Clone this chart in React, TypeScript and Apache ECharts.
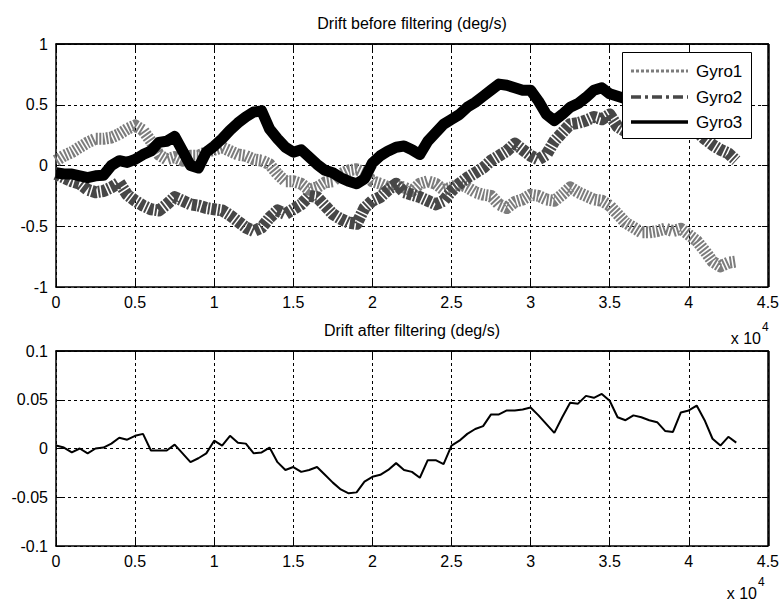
import React, { useEffect, useRef } from "react";
import * as echarts from "echarts";

// sample spacing of the recorded series (samples)
const SAMPLE_STEP = 500;

const gyro1 = [
  0.04, 0.08, 0.11, 0.15, 0.19, 0.22, 0.22, 0.23, 0.26, 0.30,
  0.33, 0.29, 0.20, 0.09, 0.05, 0.07, 0.04, 0.08, 0.08, 0.11,
  0.13, 0.15, 0.12, 0.09, 0.08, 0.05, 0.04, 0.01, -0.07, -0.13,
  -0.13, -0.15, -0.20, -0.18, -0.14, -0.13, -0.07, -0.04, -0.03, -0.06,
  -0.13, -0.15, -0.18, -0.17, -0.18, -0.21, -0.15, -0.13, -0.15, -0.20,
  -0.18, -0.15, -0.18, -0.22, -0.24, -0.25, -0.32, -0.35, -0.30, -0.28,
  -0.24, -0.25, -0.28, -0.29, -0.24, -0.18, -0.22, -0.25, -0.28, -0.29,
  -0.33, -0.40, -0.47, -0.51, -0.55, -0.55, -0.54, -0.52, -0.54, -0.52,
  -0.57, -0.62, -0.70, -0.79, -0.83, -0.80, -0.79,
];

const gyro2 = [
  -0.07, -0.10, -0.13, -0.15, -0.20, -0.22, -0.21, -0.18, -0.14, -0.24,
  -0.29, -0.33, -0.36, -0.37, -0.32, -0.26, -0.29, -0.32, -0.33, -0.35,
  -0.36, -0.37, -0.41, -0.46, -0.51, -0.54, -0.51, -0.43, -0.37, -0.40,
  -0.36, -0.32, -0.25, -0.26, -0.33, -0.40, -0.44, -0.47, -0.48, -0.35,
  -0.29, -0.26, -0.20, -0.15, -0.22, -0.24, -0.26, -0.29, -0.32, -0.29,
  -0.21, -0.15, -0.10, -0.06, -0.02, 0.04, 0.08, 0.12, 0.18, 0.13,
  0.08, 0.05, 0.09, 0.20, 0.27, 0.34, 0.35, 0.37, 0.40, 0.38,
  0.42, 0.32, 0.28, 0.32, 0.35, 0.33, 0.36, 0.34, 0.33, 0.35,
  0.32, 0.28, 0.22, 0.17, 0.13, 0.10, 0.04,
];

const gyro3 = [
  -0.06, -0.07, -0.07, -0.085, -0.10, -0.085, -0.08, 0.00, 0.04, 0.025,
  0.05, 0.09, 0.12, 0.19, 0.20, 0.24, 0.12, 0.00, -0.02, 0.11,
  0.16, 0.22, 0.29, 0.35, 0.40, 0.44, 0.45, 0.30, 0.22, 0.15,
  0.11, 0.13, 0.07, 0.01, -0.04, -0.06, -0.10, -0.13, -0.15, -0.11,
  0.02, 0.08, 0.12, 0.15, 0.16, 0.13, 0.09, 0.20, 0.27, 0.34,
  0.38, 0.42, 0.48, 0.52, 0.57, 0.62, 0.67, 0.66, 0.64, 0.62,
  0.62, 0.53, 0.42, 0.37, 0.42, 0.48, 0.51, 0.56, 0.62, 0.64,
  0.59, 0.57, 0.55, 0.52, 0.50, 0.48, 0.52, 0.55, 0.53, 0.50,
  0.48, 0.45, 0.42, 0.40, 0.38, 0.36, 0.35,
];

const filtered = [
  0.003, 0.001, -0.004, 0.0, -0.005, 0.0, 0.001, 0.005, 0.011, 0.009,
  0.013, 0.015, -0.002, -0.002, -0.002, 0.004, -0.005, -0.014, -0.01, -0.005,
  0.008, 0.003, 0.013, 0.006, 0.005, -0.005, -0.004, 0.001, -0.014, -0.022,
  -0.019, -0.024, -0.022, -0.019, -0.027, -0.035, -0.042, -0.046, -0.045, -0.034,
  -0.029, -0.027, -0.022, -0.015, -0.022, -0.024, -0.03, -0.012, -0.012, -0.016,
  0.003, 0.008, 0.015, 0.02, 0.023, 0.035, 0.035, 0.039, 0.039, 0.04,
  0.042, 0.034, 0.025, 0.016, 0.032, 0.047, 0.046, 0.054, 0.052, 0.056,
  0.049, 0.032, 0.029, 0.034, 0.032, 0.029, 0.027, 0.018, 0.017, 0.037,
  0.039, 0.044, 0.029, 0.01, 0.003, 0.012, 0.006,
];

const xTickLabels = ["0", "0.5", "1", "1.5", "2", "2.5", "3", "3.5", "4", "4.5"];
const seriesNames = ["Gyro1", "Gyro2", "Gyro3"];
const titleTop = "Drift before filtering (deg/s)";
const titleBottom = "Drift after filtering (deg/s)";

const FONT = "'Liberation Sans', Arial, Helvetica, sans-serif";

const toPairs = (arr: number[]) => arr.map((v, i) => [i * SAMPLE_STEP, v]);

const GRIDS = [
  { left: 56, top: 44, width: 713, height: 243 },
  { left: 56, top: 351, width: 713, height: 195 },
];

export default function App() {
  const ref = useRef<HTMLDivElement>(null);

  useEffect(() => {
    document.body.style.margin = "0";
    if (!ref.current) return;
    const chart = echarts.init(ref.current, undefined, { renderer: "svg" });

    const gridDash = { color: "#000", width: 1, type: [3, 3] as any };

    const xAxisBase = (gi: number, pos: "bottom" | "top") => ({
      type: "value",
      gridIndex: gi,
      position: pos,
      min: 0,
      max: 45000,
      interval: 5000,
      axisLine: { show: true, onZero: false, lineStyle: { color: "#000", width: 1.5 } },
      axisTick: { show: true, inside: true, length: 6, lineStyle: { color: "#000" } },
      axisLabel: {
        show: pos === "bottom",
        color: "#000",
        fontFamily: FONT,
        fontSize: 16,
        margin: 7,
        showMinLabel: true,
        showMaxLabel: true,
        formatter: (v: number) => xTickLabels[Math.round(v / 5000)] ?? "",
      },
      splitLine: { show: pos === "bottom", lineStyle: gridDash },
    });

    const yAxisBase = (
      gi: number,
      pos: "left" | "right",
      min: number,
      max: number,
      interval: number
    ) => ({
      type: "value",
      gridIndex: gi,
      position: pos,
      min,
      max,
      interval,
      axisLine: { show: true, onZero: false, lineStyle: { color: "#000", width: 1.5 } },
      axisTick: { show: true, inside: true, length: 6, lineStyle: { color: "#000" } },
      axisLabel: {
        show: pos === "left",
        color: "#000",
        fontFamily: FONT,
        fontSize: 16,
        margin: 8,
        showMinLabel: true,
        showMaxLabel: true,
      },
      splitLine: { show: pos === "left", lineStyle: gridDash },
    });

    // plot box outlines (top and right edges), built from the grid layout
    const frameLines: any[] = [];
    GRIDS.forEach((g) => {
      const x0 = g.left;
      const x1 = g.left + g.width;
      const y0 = g.top;
      const y1 = g.top + g.height;
      frameLines.push({
        type: "line",
        z: 60,
        silent: true,
        shape: { x1: x0, y1: y0, x2: x1, y2: y0 },
        style: { stroke: "#000", lineWidth: 1.5 },
      });
      frameLines.push({
        type: "line",
        z: 60,
        silent: true,
        shape: { x1: x1, y1: y0, x2: x1, y2: y1 },
        style: { stroke: "#000", lineWidth: 1.5 },
      });
    });

    const option: any = {
      animation: false,
      backgroundColor: "#fff",
      grid: GRIDS.map((g) => ({ ...g, show: false, containLabel: false })),
      xAxis: [
        xAxisBase(0, "bottom"),
        xAxisBase(0, "top"),
        xAxisBase(1, "bottom"),
        xAxisBase(1, "top"),
      ],
      yAxis: [
        yAxisBase(0, "left", -1, 1, 0.5),
        yAxisBase(0, "right", -1, 1, 0.5),
        yAxisBase(1, "left", -0.1, 0.1, 0.05),
        yAxisBase(1, "right", -0.1, 0.1, 0.05),
      ],
      series: [
        {
          name: seriesNames[0],
          type: "line",
          xAxisIndex: 0,
          yAxisIndex: 0,
          data: toPairs(gyro1),
          showSymbol: false,
          symbol: "none",
          lineStyle: { color: "#7c7c7c", width: 12, type: [2, 1.5], cap: "butt", join: "round" },
          z: 2,
        },
        {
          name: seriesNames[1],
          type: "line",
          xAxisIndex: 0,
          yAxisIndex: 0,
          data: toPairs(gyro2),
          showSymbol: false,
          symbol: "none",
          lineStyle: { color: "#474747", width: 12, type: [5, 1.5, 2, 1.5], cap: "butt", join: "round" },
          z: 3,
        },
        {
          name: seriesNames[2],
          type: "line",
          xAxisIndex: 0,
          yAxisIndex: 0,
          data: toPairs(gyro3),
          showSymbol: false,
          symbol: "none",
          lineStyle: { color: "#000", width: 11, join: "round" },
          z: 4,
        },
        {
          name: "filtered",
          type: "line",
          xAxisIndex: 2,
          yAxisIndex: 2,
          data: toPairs(filtered),
          showSymbol: false,
          symbol: "none",
          lineStyle: { color: "#000", width: 2 },
          z: 4,
        },
      ],
      graphic: [
        ...frameLines,
        {
          type: "text",
          x: 412,
          y: 23,
          style: { text: titleTop, font: `16px ${FONT}`, fill: "#000", textAlign: "center", textVerticalAlign: "middle" },
        },
        {
          type: "text",
          x: 412,
          y: 330,
          style: { text: titleBottom, font: `16px ${FONT}`, fill: "#000", textAlign: "center", textVerticalAlign: "middle" },
        },
        // axis multipliers
        {
          type: "text",
          x: 761,
          y: 338,
          style: { text: "x 10", font: `16px ${FONT}`, fill: "#000", textAlign: "right", textVerticalAlign: "middle" },
        },
        {
          type: "text",
          x: 762,
          y: 327,
          style: { text: "4", font: `12px ${FONT}`, fill: "#000", textAlign: "left", textVerticalAlign: "middle" },
        },
        {
          type: "text",
          x: 757,
          y: 593,
          style: { text: "x 10", font: `16px ${FONT}`, fill: "#000", textAlign: "right", textVerticalAlign: "middle" },
        },
        {
          type: "text",
          x: 758,
          y: 582,
          style: { text: "4", font: `12px ${FONT}`, fill: "#000", textAlign: "left", textVerticalAlign: "middle" },
        },
        // legend
        {
          type: "group",
          z: 100,
          children: [
            {
              type: "rect",
              z: 100,
              shape: { x: 622.5, y: 52.5, width: 129, height: 86 },
              style: { fill: "#fff", stroke: "#000", lineWidth: 1 },
            },
            {
              type: "line",
              z: 101,
              shape: { x1: 631, y1: 71, x2: 688, y2: 71 },
              style: { stroke: "#7c7c7c", lineWidth: 3, lineDash: [3, 2] },
            },
            {
              type: "line",
              z: 101,
              shape: { x1: 631, y1: 97, x2: 688, y2: 97 },
              style: { stroke: "#474747", lineWidth: 3.5, lineDash: [10, 4, 3, 4] },
            },
            {
              type: "line",
              z: 101,
              shape: { x1: 631, y1: 122, x2: 688, y2: 122 },
              style: { stroke: "#000", lineWidth: 3.5 },
            },
            {
              type: "text",
              z: 101,
              x: 696,
              y: 71,
              style: { text: seriesNames[0], font: `17px ${FONT}`, fill: "#000", textVerticalAlign: "middle" },
            },
            {
              type: "text",
              z: 101,
              x: 696,
              y: 97,
              style: { text: seriesNames[1], font: `17px ${FONT}`, fill: "#000", textVerticalAlign: "middle" },
            },
            {
              type: "text",
              z: 101,
              x: 696,
              y: 122,
              style: { text: seriesNames[2], font: `17px ${FONT}`, fill: "#000", textVerticalAlign: "middle" },
            },
          ],
        },
      ],
    };

    chart.setOption(option);
    return () => chart.dispose();
  }, []);

  return <div ref={ref} style={{ width: 782, height: 604 }} />;
}
